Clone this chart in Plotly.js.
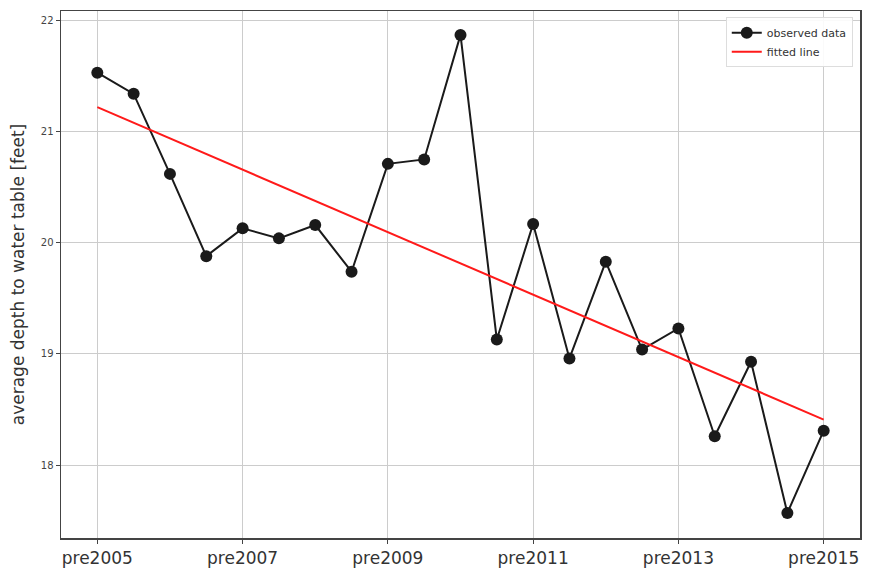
<!DOCTYPE html>
<html>
<head>
<meta charset="utf-8">
<script src="https://cdn.plot.ly/plotly-3.0.1.min.js"></script>
<style>html,body{margin:0;padding:0;background:#fff;}#chart{width:869px;height:569px;}</style>
</head>
<body>
<div id="chart"></div>
<script>
const categories = ["pre2005","post2005","pre2006","post2006","pre2007","post2007","pre2008","post2008","pre2009","post2009","pre2010","post2010","pre2011","post2011","pre2012","post2012","pre2013","post2013","pre2014","post2014","pre2015"];
const observed = [21.53,21.34,20.62,19.88,20.13,20.04,20.16,19.74,20.71,20.75,21.87,19.13,20.17,18.96,19.83,19.04,19.23,18.26,18.93,17.57,18.31];
const fittedX = ["pre2005","pre2015"];
const fittedY = [21.22,18.41];
const tickLabels = ["pre2005","pre2007","pre2009","pre2011","pre2013","pre2015"];
const yTicks = [18,19,20,21,22];

const font = "DejaVu Sans, sans-serif";
const traces = [
  {x: categories, y: observed, type: "scatter", mode: "lines+markers", name: "observed data",
   line: {color: "#1a1a1a", width: 2}, marker: {color: "#1a1a1a", size: 12}},
  {x: fittedX, y: fittedY, type: "scatter", mode: "lines", name: "fitted line",
   line: {color: "#ff1a1a", width: 2}}
];
const layout = {
  width: 869, height: 569,
  margin: {l: 61, r: 9, t: 11, b: 31},
  paper_bgcolor: "#fff", plot_bgcolor: "#fff",
  font: {family: font, color: "#333"},
  showlegend: true,
  legend: {x: 0.832, y: 0.988, xanchor: "left", yanchor: "top", bgcolor: "rgba(255,255,255,0.9)",
           bordercolor: "#dddddd", borderwidth: 1, font: {size: 11, color: "#333", family: font},
           tracegroupgap: 0},
  xaxis: {type: "category", categoryorder: "array", categoryarray: categories,
          range: [-1, 21], tickmode: "array", tickvals: tickLabels, ticktext: tickLabels,
          showgrid: true, gridcolor: "#cccccc", gridwidth: 1, zeroline: false,
          showline: true, linecolor: "#444", linewidth: 1.5, mirror: true,
          ticks: "outside", ticklen: 4, tickcolor: "#444",
          tickfont: {size: 17, color: "#333", family: font}},
  yaxis: {range: [17.345, 22.085], tickmode: "array", tickvals: yTicks,
          showgrid: true, gridcolor: "#cccccc", gridwidth: 1, zeroline: false,
          showline: true, linecolor: "#444", linewidth: 1.5, mirror: true,
          ticks: "outside", ticklen: 4, tickcolor: "#444",
          tickfont: {size: 10, color: "#444", family: font},
          title: {text: "average depth to water table [feet]", font: {size: 17, color: "#333", family: font}, standoff: 12}}
};
Plotly.newPlot("chart", traces, layout, {displayModeBar: false, staticPlot: true});
</script>
</body>
</html>
